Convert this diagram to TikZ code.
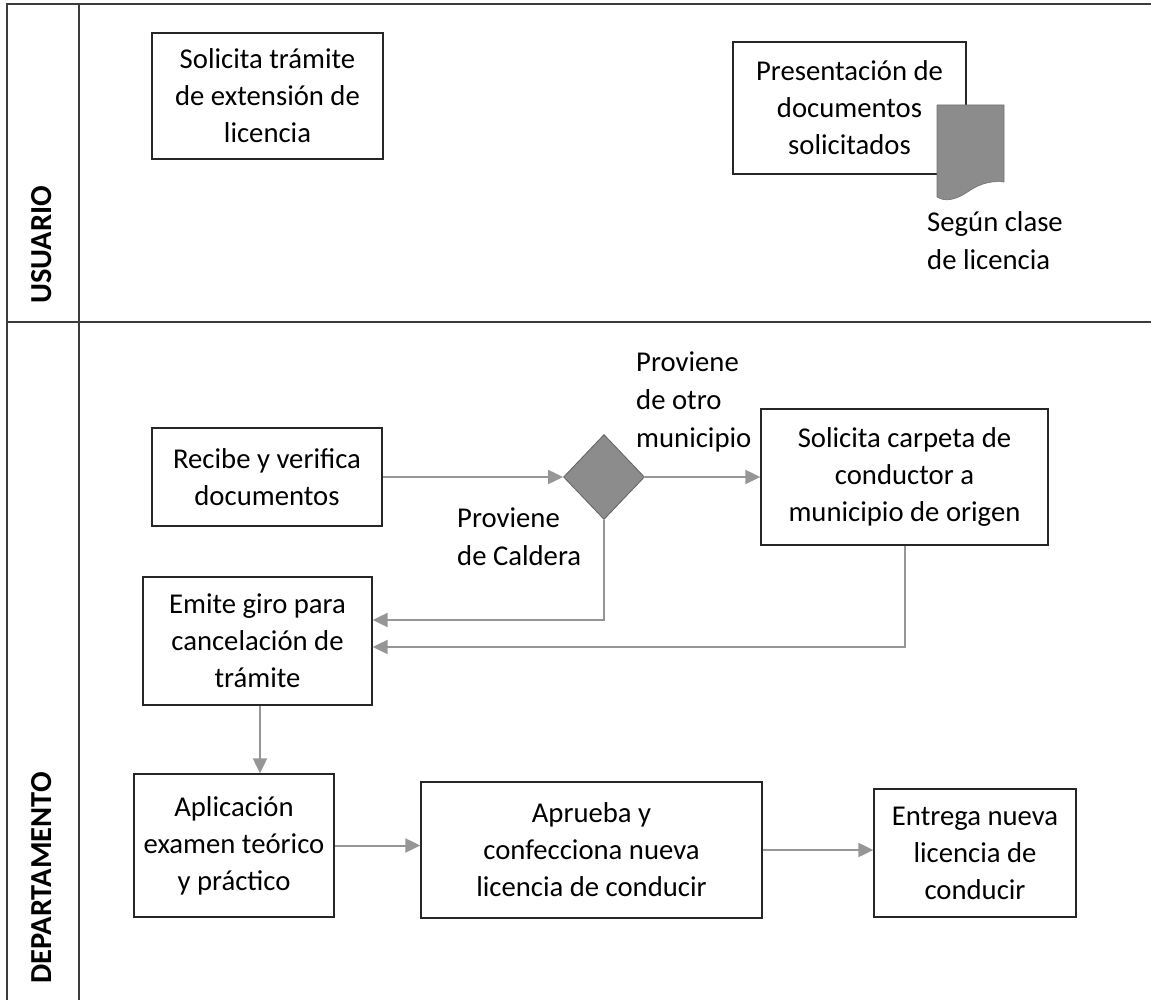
\documentclass[tikz,border=0pt]{standalone}
\usepackage{fontspec}
\setmainfont{Carlito}
\usetikzlibrary{shapes.geometric,arrows.meta}
\definecolor{linegray}{RGB}{60,60,60}
\definecolor{arrgray}{RGB}{150,150,150}
\definecolor{fillgray}{RGB}{140,140,140}
\tikzset{
  box/.style={draw=black!85, line width=1.3pt, align=center, inner sep=0pt,
    font=\fontsize{28.7}{37}\selectfont},
  lbl/.style={align=left, inner sep=0pt, font=\fontsize{28.7}{38}\selectfont},
  lane/.style={rotate=90, inner sep=0pt, font=\fontsize{30.5}{36}\selectfont\bfseries},
  arr/.style={draw=arrgray, line width=2pt, -{Triangle[length=15pt,width=14pt,fill=arrgray]}},
  frame/.style={draw=linegray, line width=1.4pt}
}
\begin{document}
\begin{tikzpicture}[x=1pt,y=-1pt]
\useasboundingbox (0,0) rectangle (1151,1000);
% frame
\draw[frame] (7,1000) -- (7,4) -- (1151,4);
\draw[frame] (79,4) -- (79,1000);
\draw[frame] (7,322) -- (1151,322);
\node[lane] (l1) at (42,245) {USUARIO};
\node[lane] (l2) at (42,878) {DEPARTAMENTO};
% usuario lane
\node[box, minimum width=231pt, minimum height=126pt] (u1) at (267.5,96) {Solicita trámite\\de extensión de\\licencia};
\node[box, minimum width=233pt, minimum height=132pt] (u2) at (849.5,108) {Presentación de\\documentos\\solicitados};
\fill[fillgray, draw=fillgray!80!black, line width=0.6pt] (937,105) -- (1004,105) -- (1004,182)
  .. controls (988,180) and (976,186) .. (966,193)
  .. controls (955,200) and (945,202) .. (937,197) -- cycle;
\node[lbl, anchor=west] (t1) at (927,241) {Según clase\\de licencia};
% departamento lane
\node[box, minimum width=230pt, minimum height=98pt] (d1) at (267,477) {Recibe y verifica\\documentos};
\node[diamond, draw=fillgray!70!black, line width=0.8pt, fill=fillgray, inner sep=0pt,
  minimum width=81pt, minimum height=85pt] (dec) at (604,477) {};
\node[box, minimum width=287pt, minimum height=136pt] (d2) at (904.5,477) {Solicita carpeta de\\conductor a\\municipio de origen};
\node[box, minimum width=229pt, minimum height=128pt] (d3) at (257.5,641) {Emite giro para\\cancelación de\\trámite};
\node[box, minimum width=200pt, minimum height=143pt] (d4) at (234,845.5) {Aplicación\\examen teórico\\y práctico};
\node[box, minimum width=341pt, minimum height=136pt] (d5) at (591.5,850) {Aprueba y\\confecciona nueva\\licencia de conducir};
\node[box, minimum width=202pt, minimum height=128pt] (d6) at (975,853) {Entrega nueva\\licencia de\\conducir};
\node[lbl, anchor=west] (t2) at (636,402) {Proviene\\de otro\\municipio};
\node[lbl, anchor=west] (t3) at (457,537) {Proviene\\de Caldera};
% connectors
\draw[arr] (d1.east) -- (dec.west);
\draw[arr] (dec.east) -- (d2.west);
\draw[arr] (dec.south) |- (d3.east |- 0,620);
\draw[arr] (d2.south) |- (d3.east |- 0,647);
\draw[arr] (d3.south -| 260,0) -- (d4.north -| 260,0);
\draw[arr] (d4.east) -- (d4.east -| d5.west);
\draw[arr] (d5.east) -- (d5.east -| d6.west);
\end{tikzpicture}
\end{document}
